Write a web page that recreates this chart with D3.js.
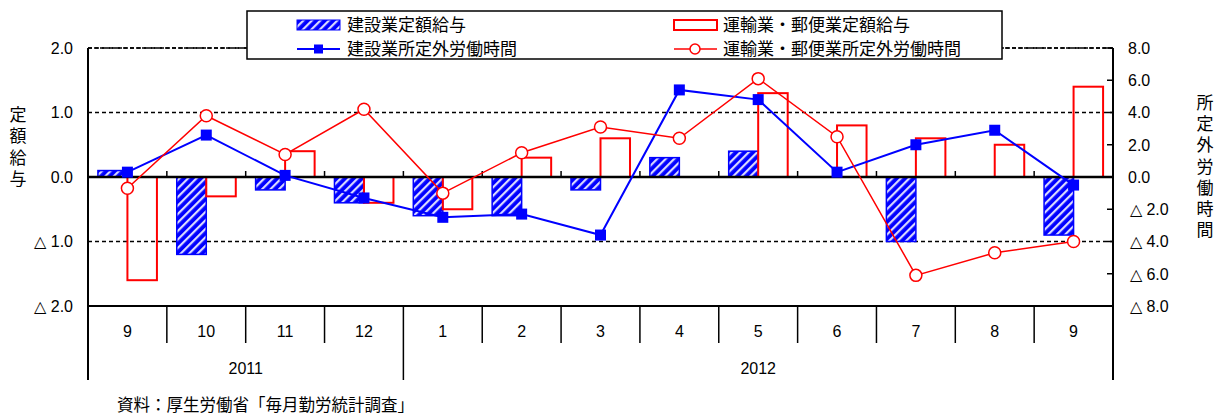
<!DOCTYPE html>
<html><head><meta charset="utf-8">
<script src="https://cdn.jsdelivr.net/npm/d3@7"></script>
<style>
body{margin:0;background:#fff;}
svg{display:block;}
.jp{font-family:"Noto Sans CJK JP","Noto Sans",sans-serif;}
.num{font-family:"Liberation Sans",Arial,sans-serif;}
</style></head>
<body><svg id="c" width="1216" height="417"></svg>
<script>
const months = ["9","10","11","12","1","2","3","4","5","6","7","8","9"];
const years = [{label:"2011", from:0, to:3},{label:"2012", from:4, to:12}];
const constWage = [0.1,-1.2,-0.2,-0.4,-0.6,-0.6,-0.2,0.3,0.4,0.0,-1.0,0.0,-0.9];
const transWage = [-1.6,-0.3,0.4,-0.4,-0.5,0.3,0.6,0.0,1.3,0.8,0.6,0.5,1.4];
const constHours = [0.3,2.6,0.1,-1.3,-2.5,-2.3,-3.6,5.4,4.8,0.3,2.0,2.9,-0.5];
const transHours = [-0.7,3.8,1.4,4.2,-1.0,1.5,3.1,2.4,6.1,2.5,-6.1,-4.7,-4.0];
const leftTicks = [2,1,0,-1,-2];
const rightTicks = [8,6,4,2,0,-2,-4,-6,-8];
const names = {cw:"建設業定額給与", tw:"運輸業・郵便業定額給与", ch:"建設業所定外労働時間", th:"運輸業・郵便業所定外労働時間"};
const leftTitle = "定額給与", rightTitle = "所定外労働時間";
const source = "資料：厚生労働省「毎月勤労統計調査」";

const BLUE="#0000ff", RED="#ff0000";
const svg = d3.select("#c");
const L=88, R=1113, T=48, B=306;
const idx = d3.range(months.length);
const x = d3.scaleBand().domain(idx).range([L,R]);
const sub = d3.scaleBand().domain(["c","t"]).range([0,x.bandwidth()]).paddingOuter(0.336);
const yL = d3.scaleLinear().domain([-2,2]).range([B,T]);
const yR = d3.scaleLinear().domain([-8,8]).range([B,T]);
const fmt = v => v<0 ? "△ "+Math.abs(v).toFixed(1) : v.toFixed(1);

// hatch pattern
const defs = svg.append("defs");
const pat = defs.append("pattern").attr("id","hatch").attr("patternUnits","userSpaceOnUse")
  .attr("width",6).attr("height",6).attr("patternTransform","rotate(45)");
pat.append("rect").attr("width",6).attr("height",6).attr("fill",BLUE);
pat.append("rect").attr("x",0).attr("width",2.2).attr("height",6).attr("fill","#ffffff").attr("opacity",0.85);

// gridlines (dashed)
svg.append("g").selectAll("line").data(leftTicks.filter(d=>d!==0)).join("line")
  .attr("x1",L).attr("x2",R).attr("y1",d=>yL(d)).attr("y2",d=>yL(d))
  .attr("stroke","#000").attr("stroke-width",1.5).attr("stroke-dasharray","4,3");

// bars
const g = svg.append("g");
g.selectAll("rect.cw").data(idx).join("rect").attr("class","cw")
  .attr("x",i=>x(i)+sub("c")).attr("width",sub.bandwidth())
  .attr("y",i=>yL(Math.max(0,constWage[i]))).attr("height",i=>Math.abs(yL(constWage[i])-yL(0)))
  .attr("fill","url(#hatch)").attr("stroke",BLUE).attr("stroke-width",1.5)
  .style("display",i=>constWage[i]===0?"none":null);
g.selectAll("rect.tw").data(idx).join("rect").attr("class","tw")
  .attr("x",i=>x(i)+sub("t")).attr("width",sub.bandwidth())
  .attr("y",i=>yL(Math.max(0,transWage[i]))).attr("height",i=>Math.abs(yL(transWage[i])-yL(0)))
  .attr("fill","none").attr("stroke",RED).attr("stroke-width",2)
  .style("display",i=>transWage[i]===0?"none":null);

// zero line & ticks
svg.append("line").attr("x1",L).attr("x2",R).attr("y1",yL(0)).attr("y2",yL(0))
  .attr("stroke","#000").attr("stroke-width",2.5);
svg.append("g").selectAll("line").data(d3.range(1,months.length)).join("line")
  .attr("x1",i=>x(i)).attr("x2",i=>x(i)).attr("y1",yL(0)).attr("y2",yL(0)-6)
  .attr("stroke","#000").attr("stroke-width",1.5);

// lines
const cx = i=>x(i)+x.bandwidth()/2;
const lineC = d3.line().x((d,i)=>cx(i)).y(d=>yR(d));
svg.append("path").datum(constHours).attr("d",lineC).attr("fill","none").attr("stroke",BLUE).attr("stroke-width",2);
svg.append("path").datum(transHours).attr("d",lineC).attr("fill","none").attr("stroke",RED).attr("stroke-width",1.5);
svg.append("g").selectAll("rect").data(constHours).join("rect")
  .attr("x",(d,i)=>cx(i)-5.5).attr("y",d=>yR(d)-5.5).attr("width",11).attr("height",11).attr("fill",BLUE);
svg.append("g").selectAll("circle").data(transHours).join("circle")
  .attr("cx",(d,i)=>cx(i)).attr("cy",d=>yR(d)).attr("r",6).attr("fill","#fff").attr("stroke",RED).attr("stroke-width",1.5);

// frame
svg.append("line").attr("x1",L).attr("x2",R).attr("y1",T).attr("y2",T)
  .attr("stroke","#000").attr("stroke-width",1.5).attr("stroke-dasharray","4,2");
svg.append("line").attr("x1",L).attr("x2",R).attr("y1",B).attr("y2",B)
  .attr("stroke","#000").attr("stroke-width",2);
svg.append("line").attr("x1",L).attr("x2",L).attr("y1",T).attr("y2",380).attr("stroke","#000").attr("stroke-width",2);
svg.append("line").attr("x1",R).attr("x2",R).attr("y1",T).attr("y2",380).attr("stroke","#000").attr("stroke-width",2);

// left axis labels
svg.append("g").selectAll("text").data(leftTicks).join("text").attr("class","num")
  .attr("x",73).attr("y",d=>yL(d)).attr("dy","0.36em").attr("text-anchor","end")
  .attr("font-size",16).text(fmt);
// right axis ticks & labels
svg.append("g").selectAll("line").data(rightTicks).join("line")
  .attr("x1",R-6).attr("x2",R).attr("y1",d=>yR(d)).attr("y2",d=>yR(d)).attr("stroke","#000").attr("stroke-width",1.5);
svg.append("g").selectAll("text").data(rightTicks).join("text").attr("class","num")
  .attr("x",d=>d<0?1130:1128).attr("y",d=>yR(d)).attr("dy","0.36em")
  .attr("font-size",16).text(fmt);

// axis titles (vertical, single text each)
svg.append("text").attr("class","jp").attr("x",18).attr("y",106)
  .attr("writing-mode","vertical-rl").attr("letter-spacing",4.5)
  .attr("font-size",17).text(leftTitle);
svg.append("text").attr("class","jp").attr("x",1205).attr("y",94)
  .attr("writing-mode","vertical-rl").attr("letter-spacing",4.2)
  .attr("font-size",17).text(rightTitle);

// category table
svg.append("g").selectAll("line").data(d3.range(1,months.length)).join("line")
  .attr("x1",i=>x(i)).attr("x2",i=>x(i)).attr("y1",B).attr("y2",i=>i===4?380:343)
  .attr("stroke","#000").attr("stroke-width",1.5);
svg.append("g").selectAll("text").data(months).join("text").attr("class","num")
  .attr("x",(d,i)=>cx(i)).attr("y",331).attr("dy","0.36em").attr("text-anchor","middle")
  .attr("font-size",16).text(d=>d);
svg.append("g").selectAll("text").data(years).join("text").attr("class","num")
  .attr("x",d=>(x(d.from)+x(d.to)+x.bandwidth())/2).attr("y",368).attr("dy","0.36em").attr("text-anchor","middle")
  .attr("font-size",16).text(d=>d.label);

// source
svg.append("text").attr("class","jp").attr("x",117).attr("y",405).attr("dy","0.34em")
  .attr("font-size",16.5).text(source);

// legend
const lg = svg.append("g");
lg.append("rect").attr("x",247).attr("y",11).attr("width",755).attr("height",48)
  .attr("fill","#fff").attr("stroke","#000").attr("stroke-width",1.5);
lg.append("rect").attr("x",297).attr("y",20).attr("width",43).attr("height",10).attr("fill","url(#hatch)").attr("stroke",BLUE).attr("stroke-width",1);
lg.append("rect").attr("x",674).attr("y",20).attr("width",43).attr("height",10).attr("fill","#fff").attr("stroke",RED).attr("stroke-width",2);
lg.append("line").attr("x1",297).attr("x2",340).attr("y1",49).attr("y2",49).attr("stroke",BLUE).attr("stroke-width",2);
lg.append("rect").attr("x",314).attr("y",44.5).attr("width",9).attr("height",9).attr("fill",BLUE);
lg.append("line").attr("x1",674).attr("x2",717).attr("y1",49).attr("y2",49).attr("stroke",RED).attr("stroke-width",1.5);
lg.append("circle").attr("cx",695).attr("cy",49).attr("r",5).attr("fill","#fff").attr("stroke",RED).attr("stroke-width",1.5);
const lt = [{t:names.cw,x:347,y:25},{t:names.tw,x:723,y:25},{t:names.ch,x:347,y:49},{t:names.th,x:723,y:49}];
lg.selectAll("text").data(lt).join("text").attr("class","jp").attr("x",d=>d.x).attr("y",d=>d.y)
  .attr("dy","0.36em").attr("font-size",17).text(d=>d.t);
</script></body></html>
